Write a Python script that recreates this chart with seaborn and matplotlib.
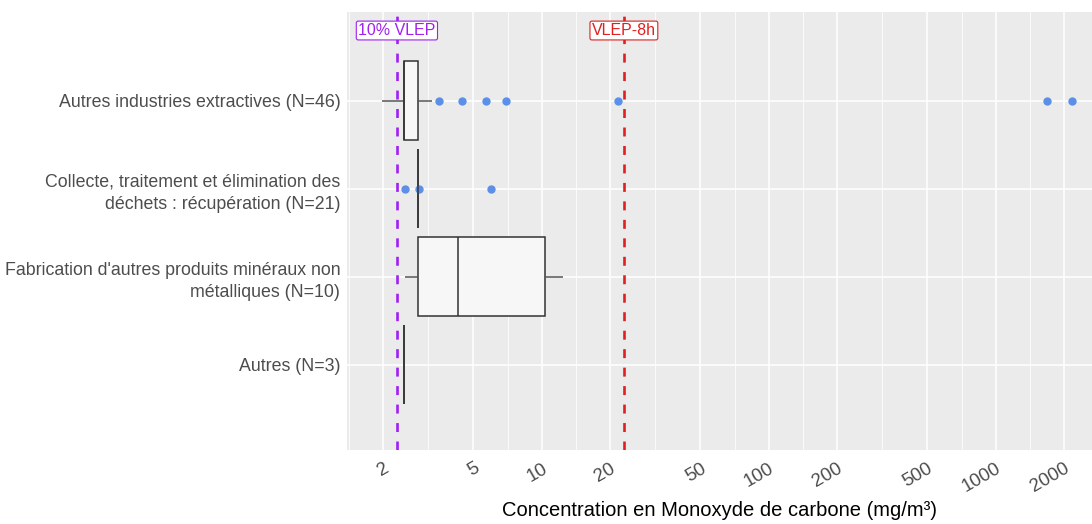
import pandas as pd
import numpy as np
import matplotlib.pyplot as plt
import matplotlib.ticker as mticker
import seaborn as sns

# Secteurs (ordre de haut en bas)
secteurs = [
    "Autres industries extractives (N=46)",
    "Collecte, traitement et élimination des\ndéchets : récupération (N=21)",
    "Fabrication d'autres produits minéraux non\nmétalliques (N=10)",
    "Autres (N=3)",
]

# Concentrations (mg/m3) estimées depuis le graphique
extractives = ([1.98, 2.1, 2.15, 2.2, 2.25, 2.3, 2.3, 2.35, 2.4, 2.4, 2.45]
               + [2.47] * 13
               + [2.5, 2.55, 2.6, 2.6, 2.65, 2.7, 2.75, 2.8, 2.8]
               + [2.85] * 5
               + [3.28, 3.53, 4.45, 5.68, 6.97, 21.6, 1686, 2164])
collecte = [2.5] + [2.85] * 18 + [2.87, 5.97]
fabrication = [2.5, 2.7, 2.85, 2.85, 4.27, 4.27, 10.3, 10.3, 11.5, 12.4]
autres = [2.47, 2.47, 2.47]

vlep_8h = 23
vlep_10 = 2.3

x_ticks = [2, 5, 10, 20, 50, 100, 200, 500, 1000, 2000]

df = pd.DataFrame({
    "secteur": [secteurs[0]] * len(extractives) + [secteurs[1]] * len(collecte)
               + [secteurs[2]] * len(fabrication) + [secteurs[3]] * len(autres),
    "valeur": extractives + collecte + fabrication + autres,
})

violet = "#A020F0"
rouge = "#E02020"
bleu = "#5B8FE8"

sns.set_theme(style="darkgrid", rc={"axes.facecolor": "#EBEBEB", "grid.color": "white"})
plt.rcParams["font.family"] = ["Liberation Sans", "DejaVu Sans"]

fig, ax = plt.subplots(figsize=(10.92, 5.24), dpi=100)
fig.subplots_adjust(left=0.318, right=1.0, top=0.977, bottom=0.141)

sns.boxplot(data=df, x="valeur", y="secteur", order=secteurs, orient="h",
            width=0.9, color="#F7F7F7", saturation=1, linecolor="#333333",
            linewidth=1.1, showcaps=False,
            flierprops=dict(marker="o", markerfacecolor=bleu,
                            markeredgecolor=bleu, markersize=5),
            whiskerprops=dict(color="#555555"), ax=ax)
ax.set_xscale("log")

# grille majeure / mineure façon ggplot
minor = [np.sqrt(a * b) for a, b in zip([1] + x_ticks[:-1], x_ticks)] + [np.sqrt(2000 * 5000)]
ax.set_xticks(x_ticks)
ax.set_xticklabels([str(t) for t in x_ticks], rotation=30, ha="right",
                   va="top", rotation_mode="anchor", fontsize=13.5, color="#4D4D4D")
ax.xaxis.set_minor_locator(mticker.FixedLocator(minor))
ax.xaxis.set_minor_formatter(mticker.NullFormatter())
ax.grid(which="major", color="white", lw=1.1)
ax.grid(which="minor", axis="x", color="white", lw=0.55)
ax.tick_params(which="minor", length=0)
ax.tick_params(which="major", length=3, width=0.8, color="#333333", pad=2)
ax.tick_params(axis="x", pad=4)
ax.tick_params(axis="y", labelsize=12.8, labelcolor="#4D4D4D")
for lab in ax.get_yticklabels():
    lab.set_linespacing(1.38)
for s in ax.spines.values():
    s.set_visible(False)

ax.set_xlim(1.39, 2655)
ax.set_ylim(3.97, -1.01)

# valeurs limites
ax.axvline(vlep_10, color=violet, ls=(0, (3.4, 3.6)), lw=1.9, zorder=5)
ax.axvline(vlep_8h, color=rouge, ls=(0, (3.4, 3.6)), lw=1.9, zorder=5)
ax.text(vlep_10, -0.8, "10% VLEP", color=violet, ha="center", va="center", fontsize=11.5,
        zorder=6, bbox=dict(boxstyle="round,pad=0.12", fc="white", ec=violet, lw=0.8))
ax.text(vlep_8h, -0.8, "VLEP-8h", color=rouge, ha="center", va="center", fontsize=11.5,
        zorder=6, bbox=dict(boxstyle="round,pad=0.12", fc="white", ec=rouge, lw=0.8))

ax.set_xlabel("Concentration en Monoxyde de carbone (mg/m³)", fontsize=14.5, color="black")
ax.set_ylabel("")

fig.savefig("out.png", dpi=100)
